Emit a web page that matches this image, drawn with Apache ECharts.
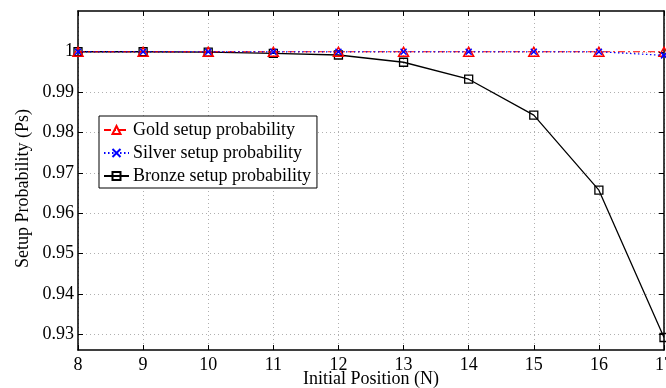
<!DOCTYPE html>
<html>
<head>
<meta charset="utf-8">
<script src="https://cdn.jsdelivr.net/npm/echarts@6/dist/echarts.min.js"></script>
<style>
html,body{margin:0;padding:0;background:#fff;}
#chart{width:666px;height:388px;}
</style>
</head>
<body>
<div id="chart"></div>
<script>
const xValues = [8, 9, 10, 11, 12, 13, 14, 15, 16, 17];
const goldValues = [1, 1, 1, 1, 1, 1, 1, 1, 1, 1];
const silverValues = [1, 1, 1, 1, 1, 1, 1, 1, 1, 0.9991];
const bronzeValues = [1, 1, 0.9999, 0.9996, 0.9992, 0.9974, 0.9932, 0.9843, 0.9657, 0.9292];
const yTickValues = [0.93, 0.94, 0.95, 0.96, 0.97, 0.98, 0.99, 1];
const seriesNames = ['Gold setup probability', 'Silver setup probability', 'Bronze setup probability'];

const FONT = 'Liberation Serif';
const pairs = v => xValues.map((x, i) => [x, v[i]]);
const fmtY = v => String(+(+v).toFixed(2));

const chart = echarts.init(document.getElementById('chart'), null, {renderer: 'canvas'});
const gridLine = {show: true, lineStyle: {color: '#b0b0b0', type: [1, 3], width: 1}};
const yRange = {min: 0.9261, max: 1.0101};
const lbl = {fontFamily: FONT, fontSize: 18, color: '#000'};

chart.setOption({
  animation: false,
  backgroundColor: '#fff',
  textStyle: {fontFamily: FONT},
  grid: {left: 78, right: 2, top: 11, bottom: 38, containLabel: false, outerBoundsMode: 'none'},
  legend: {
    orient: 'vertical',
    left: 99, top: 116,
    padding: [5, 6, 3, 4],
    itemGap: 5,
    itemWidth: 25, itemHeight: 10,
    backgroundColor: '#fff',
    borderColor: '#000', borderWidth: 1,
    textStyle: {fontFamily: FONT, fontSize: 18, color: '#000', lineHeight: 18, padding: [0, 0, 0, -1]},
    data: seriesNames
  },
  xAxis: [{
    type: 'value', min: 8, max: 17, interval: 1, position: 'bottom',
    name: 'Initial Position (N)', nameLocation: 'middle', nameGap: 20, nameMoveOverlap: false,
    nameTextStyle: lbl,
    axisLine: {show: true, onZero: false, lineStyle: {color: '#000', width: 1.5}},
    axisTick: {show: true, inside: true, length: 5, lineStyle: {color: '#000'}},
    axisLabel: Object.assign({show: true, margin: 6, hideOverlap: false}, lbl),
    splitLine: gridLine
  }, {
    type: 'value', min: 8, max: 17, interval: 1, position: 'top',
    axisLine: {show: true, onZero: false, lineStyle: {color: '#000', width: 1.5}},
    axisTick: {show: true, inside: true, length: 5, lineStyle: {color: '#000'}},
    axisLabel: {show: false},
    splitLine: {show: false}
  }],
  yAxis: [{
    type: 'value', min: yRange.min, max: yRange.max, position: 'left',
    name: 'Setup Probability (Ps)', nameLocation: 'middle', nameGap: 46, nameMoveOverlap: false,
    nameTextStyle: Object.assign({padding: [0, 16, 0, 0]}, lbl),
    axisLine: {show: true, onZero: false, lineStyle: {color: '#000', width: 1.5}},
    axisTick: {show: true, inside: true, length: 5, customValues: yTickValues, lineStyle: {color: '#000'}},
    axisLabel: Object.assign({show: true, margin: 4, customValues: yTickValues, formatter: fmtY}, lbl),
    splitLine: gridLine
  }, {
    type: 'value', min: yRange.min, max: yRange.max, position: 'right',
    axisLine: {show: true, onZero: false, lineStyle: {color: '#000', width: 1.5}},
    axisTick: {show: true, inside: true, length: 5, customValues: yTickValues, lineStyle: {color: '#000'}},
    axisLabel: {show: false},
    splitLine: {show: false}
  }],
  series: [{
    name: seriesNames[0], type: 'line', data: pairs(goldValues), z: 3,
    symbol: 'triangle', symbolSize: [10, 9],
    lineStyle: {color: '#ff0000', width: 1.2, type: [7, 3, 2, 3]},
    itemStyle: {color: 'rgba(255,255,255,0)', borderColor: '#ff0000', borderWidth: 1.5}
  }, {
    name: seriesNames[1], type: 'line', data: pairs(silverValues), z: 4,
    symbol: 'path://M0,0L10,10M10,0L0,10', symbolSize: 6,
    lineStyle: {color: '#0000ff', width: 1.2, type: [1.5, 2.5]},
    itemStyle: {color: 'rgba(0,0,255,0)', borderColor: '#0000ff', borderWidth: 1.5}
  }, {
    name: seriesNames[2], type: 'line', data: pairs(bronzeValues), z: 2,
    symbol: 'rect', symbolSize: 8,
    lineStyle: {color: '#000', width: 1.3, type: 'solid'},
    itemStyle: {color: 'rgba(255,255,255,0)', borderColor: '#000', borderWidth: 1.3}
  }]
});
</script>
</body>
</html>
